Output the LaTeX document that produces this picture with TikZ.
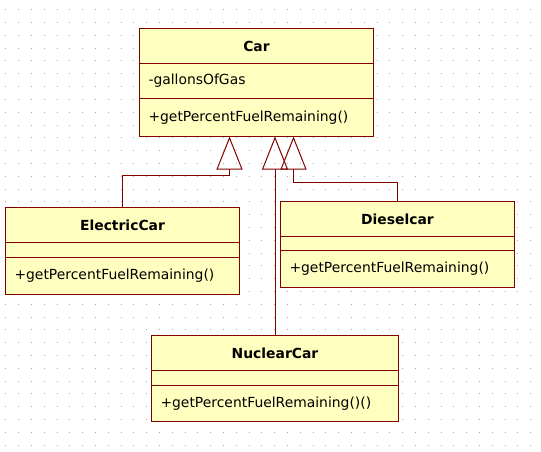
\documentclass[tikz,border=0pt]{standalone}
\usepackage{fontspec}
\setmainfont{DejaVu Sans}
\usetikzlibrary{positioning,arrows.meta}
\definecolor{umlred}{HTML}{800000}
\definecolor{umlfill}{HTML}{FFFFC0}
\definecolor{dotgray}{HTML}{A8A8A8}
\begin{document}
\begin{tikzpicture}[x=1pt,y=-1pt,
  every node/.style={draw=umlred,fill=umlfill,line width=1pt,inner sep=0pt,outer sep=0pt,font=\fontsize{13.9}{16}\selectfont},
  head/.style={font=\fontsize{13.9}{16}\selectfont\bfseries,anchor=north west,minimum height=35pt},
  part/.style={align=left,inner xsep=9pt,text width=#1},
  gen/.style={draw=umlred,line width=1pt,-{Triangle[open,length=33pt,width=26pt]}}]
\fill[white] (0,0) rectangle (541,452);
\useasboundingbox (0,0) rectangle (541,452);
\foreach \i in {0,...,41}
  \foreach \j in {0,...,34}
    \fill[dotgray] (5.3+12.8*\i,9.3+12.8*\j) rectangle ++(1,1);
\node (car) at (139.5,28.5) [head,minimum width=234pt] {Car};
\node (carattr) [part=216pt,minimum height=35pt,below=0pt of car] {-gallonsOfGas};
\node (carop) [part=216pt,minimum height=38pt,below=0pt of carattr] {+getPercentFuelRemaining()};
\node (electric) at (5.5,207.5) [head,minimum width=234pt] {ElectricCar};
\node (electricattr) [part=216pt,minimum height=15pt,below=0pt of electric] {};
\node (electricop) [part=216pt,minimum height=37pt,below=0pt of electricattr] {+getPercentFuelRemaining()};
\node (diesel) at (280.5,201.5) [head,minimum width=234pt] {Dieselcar};
\node (dieselattr) [part=216pt,minimum height=14pt,below=0pt of diesel] {};
\node (dieselop) [part=216pt,minimum height=37pt,below=0pt of dieselattr] {+getPercentFuelRemaining()};
\node (nuclear) at (151.5,335.5) [head,minimum width=247pt] {NuclearCar};
\node (nuclearattr) [part=229pt,minimum height=15pt,below=0pt of nuclear] {};
\node (nuclearop) [part=229pt,minimum height=36pt,below=0pt of nuclearattr] {+getPercentFuelRemaining()()};
\draw [gen] (electric.north) |- ++(107,-32) -- ([xshift=90pt]carop.south west);
\draw [gen] (nuclear.north) -- (nuclear.north |- carop.south);
\draw [gen] (diesel.north) |- ++(-104,-19) -- ([xshift=154pt]carop.south west);
\end{tikzpicture}
\end{document}
